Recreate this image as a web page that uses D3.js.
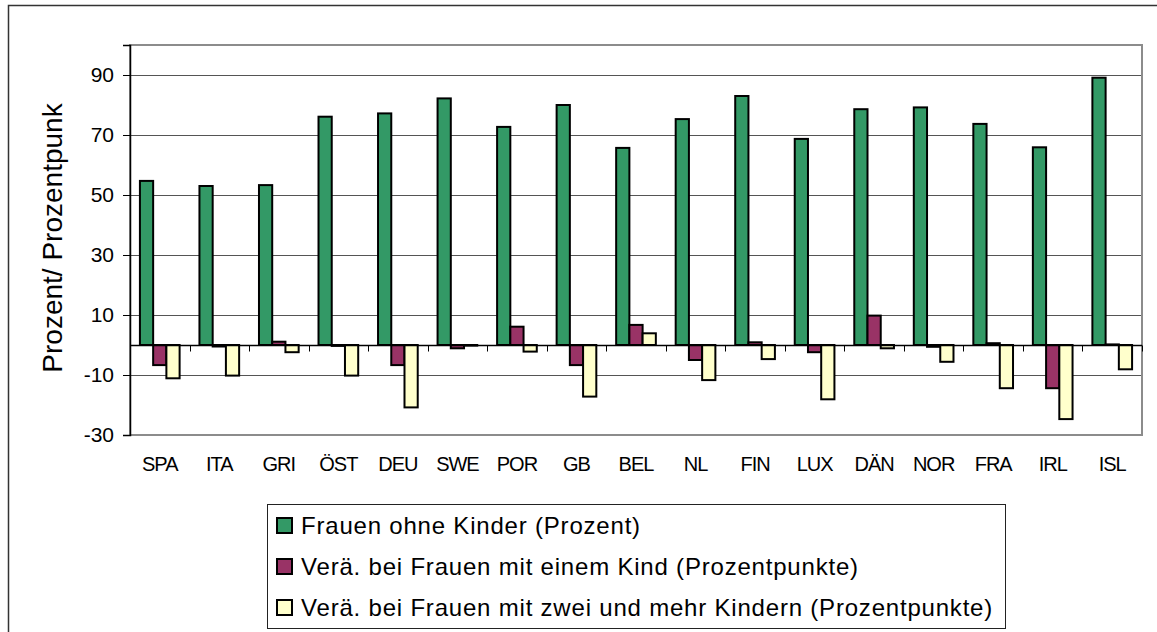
<!DOCTYPE html>
<html lang="de">
<head>
<meta charset="utf-8">
<title>Frauen ohne Kinder</title>
<script src="https://cdnjs.cloudflare.com/ajax/libs/d3/7.8.5/d3.min.js"></script>
<style>
  body { margin: 0; background: #fff; }
  svg { font-family: "Liberation Sans", Arial, sans-serif; }
</style>
</head>
<body>
<div id="chart"></div>
<script>
// data
var countries = ["SPA", "ITA", "GRI", "ÖST", "DEU", "SWE", "POR", "GB", "BEL",
                 "NL", "FIN", "LUX", "DÄN", "NOR", "FRA", "IRL", "ISL"];
var ohneKinder = [54.7, 53, 53.3, 76.1, 77.2, 82.2, 72.7, 80, 65.7, 75.3, 83, 68.7, 78.6, 79.2, 73.7, 65.9, 89.1];
var einKind    = [-6.7, -0.5, 1.1, -0.3, -6.7, -1.1, 6.1, -6.7, 6.7, -5, 0.9, -2.4, 9.8, -0.6, 0.6, -14.4, 0.2];
var zweiKinder = [-11.1, -10.2, -2.4, -10.2, -20.8, -0.2, -2.2, -17.2, 3.9, -11.7, -4.7, -18.1, -1.1, -5.6, -14.4, -24.7, -8.1];
var seriesNames = ["Frauen ohne Kinder (Prozent)",
                   "Verä. bei Frauen mit einem Kind (Prozentpunkte)",
                   "Verä. bei Frauen mit zwei und mehr Kindern (Prozentpunkte)"];
var yTicks = [-30, -10, 10, 30, 50, 70, 90];
var colors = ["#339966", "#993366", "#ffffcc"];

var width = 1157, height = 632;
var plot = {left: 130, right: 1142, top: 45, bottom: 435};

var svg = d3.select("#chart").append("svg")
  .attr("width", width)
  .attr("height", height);

// outer frame (cut off at right and bottom like the original)
svg.append("rect")
  .attr("x", 8.5).attr("y", 5.5)
  .attr("width", 1160).attr("height", 640)
  .attr("fill", "none").attr("stroke", "#333").attr("stroke-width", 1.5);

var y = d3.scaleLinear().domain([-30, 100]).range([plot.bottom, plot.top]);

var x = d3.scaleBand()
  .domain(countries)
  .range([plot.left, plot.right])
  .paddingInner(1 / 3)
  .paddingOuter(1 / 6);

var xSub = d3.scaleBand().domain([0, 1, 2]).range([0, x.bandwidth()]);

// gridlines
svg.append("g")
  .selectAll("line")
  .data(yTicks.filter(function(d) { return d > -30; }))
  .join("line")
    .attr("x1", plot.left).attr("x2", plot.right)
    .attr("y1", function(d) { return Math.round(y(d)) + 0.5; })
    .attr("y2", function(d) { return Math.round(y(d)) + 0.5; })
    .attr("stroke", "#555").attr("stroke-width", 1);

// plot area border (grey)
svg.append("rect")
  .attr("x", plot.left).attr("y", plot.top)
  .attr("width", plot.right - plot.left).attr("height", plot.bottom - plot.top)
  .attr("fill", "none").attr("stroke", "#8c8c8c").attr("stroke-width", 2);

// bars
var rows = countries.map(function(c, i) {
  return {c: c, v: [ohneKinder[i], einKind[i], zweiKinder[i]]};
});

var groups = svg.append("g")
  .selectAll("g")
  .data(rows)
  .join("g")
    .attr("transform", function(d) { return "translate(" + x(d.c) + ",0)"; });

groups.selectAll("rect")
  .data(function(d) { return d.v.map(function(v, k) { return {k: k, v: v}; }); })
  .join("rect")
    .attr("x", function(d) { return xSub(d.k); })
    .attr("width", xSub.bandwidth())
    .attr("y", function(d) { return y(Math.max(0, d.v)); })
    .attr("height", function(d) { return Math.abs(y(d.v) - y(0)); })
    .attr("fill", function(d) { return colors[d.k]; })
    .attr("stroke", "#000")
    .attr("stroke-width", 2);

// y axis
var yAxis = svg.append("g")
  .attr("transform", "translate(" + plot.left + ",0)")
  .call(d3.axisLeft(y).tickValues(yTicks).tickSize(7).tickPadding(9)
    .tickFormat(function(d) { return String(d); }));
yAxis.select(".domain").attr("stroke", "#000").attr("stroke-width", 1.5);
yAxis.selectAll(".tick line").attr("stroke", "#000");
yAxis.selectAll(".tick text")
  .attr("font-size", "21px")
  .attr("font-family", "Liberation Sans, Arial, sans-serif")
  .attr("fill", "#000");

// category axis at zero
var zero = Math.round(y(0)) + 0.5;
svg.append("line")
  .attr("x1", plot.left).attr("x2", plot.right)
  .attr("y1", zero).attr("y2", zero)
  .attr("stroke", "#000").attr("stroke-width", 1.5);

// tick marks between the categories
var bounds = d3.range(countries.length + 1).map(function(i) { return plot.left + i * x.step(); });
svg.append("g")
  .selectAll("line")
  .data(bounds)
  .join("line")
    .attr("x1", function(d) { return Math.round(d) + 0.5; })
    .attr("x2", function(d) { return Math.round(d) + 0.5; })
    .attr("y1", zero).attr("y2", zero + 6)
    .attr("stroke", "#000");

// category labels (under the plot)
svg.append("g")
  .selectAll("text")
  .data(countries)
  .join("text")
    .attr("x", function(d) { return x(d) + x.bandwidth() / 2; })
    .attr("y", 471)
    .attr("text-anchor", "middle")
    .attr("font-size", "20px")
    .attr("letter-spacing", "-1px")
    .text(function(d) { return d; });

// y title
svg.append("text")
  .attr("transform", "translate(62,238) rotate(-90)")
  .attr("text-anchor", "middle")
  .attr("font-size", "28px")
  .text("Prozent/ Prozentpunk");

// legend
var legend = svg.append("g");
legend.append("rect")
  .attr("x", 267.5).attr("y", 504.5)
  .attr("width", 738).attr("height", 124)
  .attr("fill", "#fff").attr("stroke", "#222").attr("stroke-width", 1);

var items = legend.selectAll("g.item")
  .data(seriesNames)
  .join("g")
    .attr("class", "item")
    .attr("transform", function(d, i) { return "translate(0," + (526 + i * 41) + ")"; });

items.append("rect")
  .attr("x", 277).attr("y", -8)
  .attr("width", 15).attr("height", 15)
  .attr("fill", function(d, i) { return colors[i]; })
  .attr("stroke", "#000").attr("stroke-width", 2);

items.append("text")
  .attr("x", 301)
  .attr("y", 8)
  .attr("font-size", "24px")
  .attr("letter-spacing", "0.8px")
  .text(function(d) { return d; });
</script>
</body>
</html>
